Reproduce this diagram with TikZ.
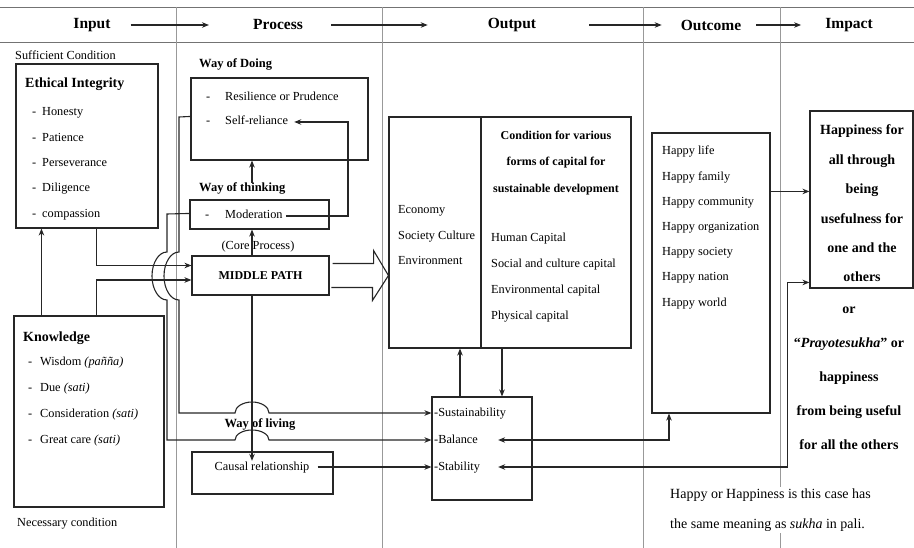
\documentclass[tikz,border=0pt]{standalone}
\usepackage{fontspec}
\setmainfont{Liberation Serif}
\usepackage{tikz}
\usetikzlibrary{calc,positioning,fit,arrows.meta}
\tikzstyle{box}   = [draw=black!85, line width=1.1pt, inner sep=0pt]
\tikzstyle{txt}   = [inner sep=0pt, anchor=west, text height=9pt, text depth=3pt, font=\fontsize{12.3}{14}\selectfont]
\tikzstyle{line}  = [line width=1.1pt, draw=black!85]
\tikzstyle{arrow} = [line, -{Stealth[length=7pt,width=5.5pt]}]
\tikzstyle{both}  = [line, {Stealth[length=7pt,width=5.5pt]}-{Stealth[length=7pt,width=5.5pt]}]
\tikzstyle{col}   = [line width=0.8pt, draw=black!40]

\begin{document}
\begin{tikzpicture}[x=1pt,y=-1pt,
			hdr/.style={inner sep=0pt, font=\fontsize{15.5}{18}\selectfont\bfseries},
			ttl/.style={txt, text height=10pt, font=\fontsize{14}{16}\selectfont\bfseries},
			sub/.style={txt, font=\fontsize{12.5}{15}\selectfont\bfseries},
		]
		\useasboundingbox (0,0) rectangle (914,548);

		\draw[col, draw=black!55] (0,7) -- (914,7);
		\draw[col, draw=black!55] (0,42) -- (914,42);
		\foreach \x in {176,382,643,780}
			\draw[col] (\x,7) -- (\x,548);

		\node[hdr] (hin)   at (92,25)  {Input};
		\node[hdr] (hpro)  at (278,25) {Process};
		\node[hdr] (hout)  at (512,25) {Output};
		\node[hdr] (houtc) at (711,25) {Outcome};
		\node[hdr] (himp)  at (849,25) {Impact};
		\draw[arrow] ($(hin.east)+(20,0)$)   -- ($(hpro.west)+(-44,0)$);
		\draw[arrow] ($(hpro.east)+(28,0)$)  -- ($(hout.west)+(-60,0)$);
		\draw[arrow] ($(hout.east)+(53,0)$)  -- ($(houtc.west)+(-19,0)$);
		\draw[arrow] ($(houtc.east)+(15,0)$) -- ($(himp.west)+(-24,0)$);

		\node[txt] (suff) at (15,57) {Sufficient Condition};
		\node[box, fit={(16,64) (158,228)}] (eth) {};
		\node[ttl] (etht) at (25,84) {Ethical Integrity};
		\foreach \t [count=\i from 0] in {Honesty,Patience,Perseverance,Diligence,compassion} {
			\node[txt] (ed\i) at (32,{113+25.3*\i}) {-};
			\node[txt] (ei\i) at (42,{113+25.3*\i}) {\t};
		}

		\node[box, fit={(14,316) (164,507)}] (know) {};
		\node[ttl] (knowt) at (23,338) {Knowledge};
		\foreach \t [count=\i from 0] in {Wisdom \textit{(pañña)},Due \textit{(sati)},Consideration \textit{(sati)},Great care \textit{(sati)}} {
			\node[txt] (kd\i) at (28,{363+25.8*\i}) {-};
			\node[txt] (ki\i) at (40,{363+25.8*\i}) {\t};
		}
		\node[txt] (nec) at (17,523) {Necessary condition};

		\node[sub] (wdot) at (199,65) {Way of Doing};
		\node[box, fit={(191,78) (368,160)}] (wdo) {};
		\node[txt] (dres) at (206,98) {-};
		\node[txt] (tres) at (225,98) {Resilience or Prudence};
		\node[txt] (dself) at (206,122) {-};
		\node[txt] (tself) at (225,122) {Self-reliance};
		\node[sub] (wthink) at (199,189) {Way of thinking};
		\node[box, fit={(190,200) (329,229)}] (mod) {};
		\node[txt] (dmod) at (205,216) {-};
		\node[txt] (tmod) at (225,216) {Moderation};
		\node[txt, anchor=center] (core) at (258,247) {(Core Process)};
		\node[box, fit={(192,256) (329,295)}] (mp) {};
		\node[font=\fontsize{12}{14}\selectfont\bfseries] (tmp) at (mp.center) {MIDDLE PATH};
		\node[sub, anchor=center] (wliv) at (260,424) {Way of living};
		\node[box, fit={(192,452) (333,494)}] (caus) {};
		\node[txt, anchor=center] (tcaus) at (262,467) {Causal relationship};

		\node[box, fit={(389,117) (481,348)}] (optl) {};
		\node[box, fit={(481,117) (631,348)}] (optr) {};
		\node[txt] (eco) at (398,211) {Economy};
		\node[txt] (soc) at (398,237) {Society Culture};
		\node[txt] (env) at (398,262) {Environment};
		\node[font=\fontsize{12}{26.5}\selectfont\bfseries, align=center] (optt) at (556,163)
			{Condition for various\\forms of capital for\\sustainable development};
		\foreach \t [count=\i from 0] in {Human Capital,Social and culture capital,Environmental capital,Physical capital}
			\node[txt] (cap\i) at (491,{239+25.7*\i}) {\t};

		\node[box, fit={(432,397) (532,500)}] (sbox) {};
		\node[txt] (tsus) at (434,413) {-Sustainability};
		\node[txt] (tbal) at (434,440) {-Balance};
		\node[txt] (tsta) at (434,467) {-Stability};

		\node[box, fit={(652,133) (770,413)}] (outc) {};
		\foreach \t [count=\i from 0] in {Happy life,Happy family,Happy community,Happy organization,Happy society,Happy nation,Happy world}
			\node[txt] (hp\i) at (662,{152+25.2*\i}) {\t};

		\node[box, fit={(810,111) (913,288)}] (imp) {};
		\node[font=\fontsize{14}{29.4}\selectfont\bfseries, align=center] (timp) at (862,203.5)
			{Happiness for\\all through\\being\\usefulness for\\one and the\\others};
		\node[font=\fontsize{14}{34}\selectfont\bfseries, align=center] (tor) at (849,378)
			{or\\``\textit{Prayotesukha}'' or\\happiness\\from being useful\\for all the others};

		\node[anchor=north west, align=left, fill=white, inner sep=2pt,
			font=\fontsize{14}{30}\selectfont] (note) at (668,486.5)
			{Happy or Happiness is this case has\\the same meaning as \textit{sukha} in pali.};

		\coordinate (k0) at ($(know.north west)+(28,0)$);
		\draw[arrow] (k0) -- (k0 |- eth.south);
		\coordinate (e1) at ($(eth.south west)+(81,0)$);
		\draw[arrow] (e1) |- ([yshift=10pt]mp.west);
		\coordinate (k1) at ($(know.north west)+(83,0)$);
		\draw[arrow] (k1) |- ([yshift=-4.5pt]mp.west);

		\coordinate (xm) at (252,0);
		\draw[arrow] (mp.north -| xm) -- (mod.south -| xm);
		\draw[arrow] (wthink.north -| xm) -- (wdo.south -| xm);
		\draw[arrow] (mp.south -| xm) -- (tcaus.north -| xm);

		\coordinate (xr) at (348,0);
		\draw[arrow] ([xshift=3pt]tmod.east) -- (tmod.east -| xr) |- ([xshift=6pt]tself.east);

		\draw[arrow] ([yshift=-39pt]wdo.north west) -- (179,117) -- (179,252)
			arc[start angle=90, end angle=270, x radius=15pt, y radius=24pt] -- (179,413) -- (235,413)
			arc[start angle=180, end angle=0, x radius=17pt, y radius=11pt] -- (sbox.west |- tsus.west);
		\draw[arrow] ([yshift=-14pt]mod.north west) -- (167,214) -- (167,252)
			arc[start angle=90, end angle=270, x radius=15pt, y radius=24pt] -- (167,440) -- (235,440)
			arc[start angle=180, end angle=0, x radius=17pt, y radius=10pt] -- (sbox.west |- tbal.west);

		\draw[arrow] ([xshift=8pt]tcaus.east) -- (sbox.west |- tsta.west);

		\draw[line] ($(mp.east)+(3,-12)$) -- ++(41,0) -- ++(0,-13) -- (optl.west |- mp.east)
			-- ++(-16,25) -- ++(0,-13) -- ++(-41,0);

		\coordinate (xu) at (460,0);
		\coordinate (xd) at (502,0);
		\draw[arrow] (sbox.north -| xu) -- (optl.south -| xu);
		\draw[arrow] (optr.south -| xd) -- (sbox.north -| xd);

		\coordinate (o1) at ([yshift=-59pt]outc.north east);
		\draw[arrow] (o1) -- (o1 -| imp.west);

		\coordinate (xb) at (669,0);
		\draw[both] ([xshift=20pt]tbal.east) -| (outc.south -| xb);
		\coordinate (i1) at ([yshift=-172pt]imp.north west);
		\draw[both] ([xshift=18pt]tsta.east) -| ($(i1)+(-22,0)$) -- (i1);
	\end{tikzpicture}
\end{document}
